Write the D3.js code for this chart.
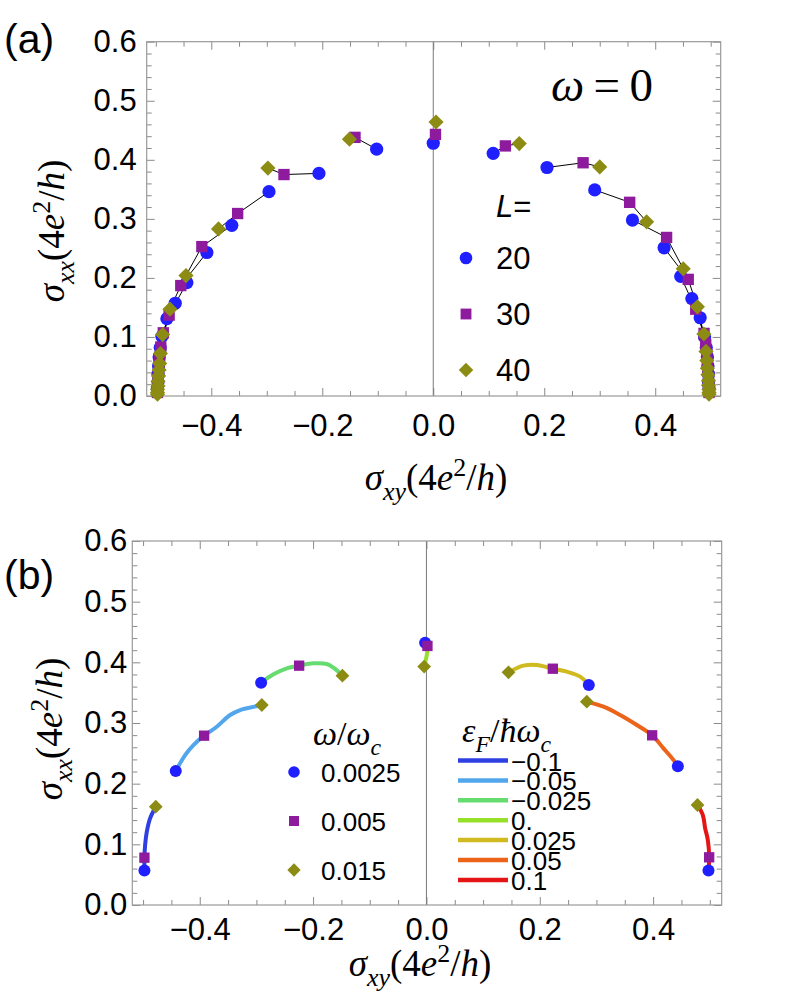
<!DOCTYPE html>
<html>
<head>
<meta charset="utf-8">
<script src="https://cdn.jsdelivr.net/npm/d3@7"></script>
<style>
  body { margin: 0; background: #fff; }
  svg { display: block; }
  .tick text { font-family: "Liberation Sans", Arial, sans-serif; fill: #000; }
</style>
</head>
<body>
<svg id="chart" width="790" height="992"></svg>
<script>
// ---------- data ----------
const xMajor = [-0.4, -0.2, 0, 0.2, 0.4];
const xMinor = [-0.5, -0.45, -0.35, -0.3, -0.25, -0.15, -0.1, -0.05, 0.05, 0.1, 0.15, 0.25, 0.3, 0.35, 0.45, 0.5];
const yMajor = [0, 0.1, 0.2, 0.3, 0.4, 0.5, 0.6];
const yMinor = d3.range(0, 61, 2).filter(v => v % 10 !== 0).map(v => v / 100);

// panel (a): [sigma_xy, sigma_xx] ordered from the centre outward
const sizes = [20, 30, 40];
const aCentre = [[0, 0.428], [0.004, 0.443], [0.005, 0.464]];
const a20Right = [[0.108, 0.411], [0.205, 0.387], [0.291, 0.349], [0.359, 0.298], [0.416, 0.251], [0.446, 0.2025], [0.466, 0.165], [0.481, 0.1325], [0.489, 0.100], [0.492, 0.082], [0.494, 0.066], [0.495, 0.051], [0.496, 0.037], [0.496, 0.024], [0.497, 0.013]];
const a30Right = [[0.130, 0.4235], [0.270, 0.395], [0.354, 0.328], [0.4205, 0.2685], [0.4595, 0.1975], [0.473, 0.147], [0.488, 0.106], [0.491, 0.087], [0.493, 0.070], [0.494, 0.056], [0.495, 0.043], [0.496, 0.031], [0.496, 0.021], [0.497, 0.012], [0.497, 0.006]];
const a40Right = [[0.155, 0.4275], [0.300, 0.388], [0.3845, 0.295], [0.4505, 0.2155], [0.476, 0.151], [0.4877, 0.105], [0.4915, 0.0755], [0.493, 0.060], [0.494, 0.047], [0.495, 0.036], [0.496, 0.026], [0.496, 0.018], [0.497, 0.011], [0.497, 0.006], [0.497, 0.003]];
const a20Left = [[-0.102, 0.418], [-0.206, 0.377], [-0.296, 0.346], [-0.363, 0.289], [-0.408, 0.243], [-0.444, 0.192], [-0.465, 0.157], [-0.480, 0.131], [-0.489, 0.101], [-0.492, 0.082], [-0.494, 0.066], [-0.495, 0.051], [-0.496, 0.037], [-0.496, 0.024], [-0.497, 0.013]];
const a30Left = [[-0.141, 0.438], [-0.269, 0.375], [-0.3525, 0.309], [-0.417, 0.253], [-0.455, 0.187], [-0.476, 0.137], [-0.4865, 0.107], [-0.491, 0.083], [-0.493, 0.066], [-0.494, 0.053], [-0.495, 0.041], [-0.496, 0.030], [-0.496, 0.020], [-0.497, 0.012], [-0.497, 0.006]];
const a40Left = [[-0.151, 0.435], [-0.298, 0.386], [-0.387, 0.283], [-0.4456, 0.204], [-0.4744, 0.147], [-0.4876, 0.104], [-0.4917, 0.072], [-0.493, 0.055], [-0.494, 0.044], [-0.495, 0.034], [-0.496, 0.025], [-0.496, 0.017], [-0.497, 0.011], [-0.497, 0.006], [-0.497, 0.003]];

// panel (b): markers per omega/omega_c, curves per eps_F/hbar omega_c
const omegas = ['0.0025', '0.005', '0.015'];
const bOmega1 = [[-0.4976, 0.057], [-0.4423, 0.2209], [-0.2917, 0.3665], [-0.0023, 0.4324], [0.2865, 0.3626], [0.4436, 0.2286], [0.4977, 0.057]];
const bOmega2 = [[-0.4976, 0.078], [-0.3923, 0.2791], [-0.2246, 0.3945], [0.0018, 0.427], [0.223, 0.3895], [0.3983, 0.2797], [0.4989, 0.0786]];
const bOmega3 = [[-0.4776, 0.1621], [-0.2905, 0.3297], [-0.1482, 0.378], [-0.004, 0.393], [0.1448, 0.3835], [0.283, 0.3351], [0.4783, 0.1648]];

const fermiLabels = ['\u22120.1', '\u22120.05', '\u22120.025', '0.', '0.025', '0.05', '0.1'];
const fermiColors = ['#2f40e2', '#52a6ec', '#66dc70', '#97e02a', '#cfba1f', '#ec6419', '#e61515'];
const bCurveM010 = [[-0.4976, 0.0571], [-0.4976, 0.078], [-0.4964, 0.0989], [-0.4934, 0.1209], [-0.4876, 0.1429], [-0.4776, 0.1621]];
const bCurveM005 = [[-0.4423, 0.2209], [-0.4258, 0.2472], [-0.4111, 0.2637], [-0.3923, 0.2791], [-0.3699, 0.2939], [-0.3464, 0.3132], [-0.3287, 0.3214], [-0.317, 0.3242], [-0.2905, 0.3297]];
const bCurveM0025 = [[-0.2917, 0.3665], [-0.2699, 0.3802], [-0.2464, 0.3901], [-0.2246, 0.3945], [-0.1993, 0.3983], [-0.1758, 0.3972], [-0.1641, 0.3912], [-0.1482, 0.378]];
const bCurve0 = [[-0.0023, 0.4324], [0.0018, 0.427], [0.0006, 0.412], [-0.004, 0.393]];
const bCurveP0025 = [[0.1448, 0.3835], [0.1712, 0.3945], [0.1948, 0.3956], [0.223, 0.3895], [0.2477, 0.3846], [0.2712, 0.3764], [0.2865, 0.3626]];
const bCurveP005 = [[0.283, 0.3351], [0.3124, 0.3269], [0.3418, 0.3132], [0.3712, 0.2967], [0.3983, 0.2797], [0.4183, 0.2582], [0.4359, 0.239], [0.4436, 0.2286]];
const bCurveP010 = [[0.4783, 0.1648], [0.4877, 0.1483], [0.4918, 0.1264], [0.4965, 0.1071], [0.4989, 0.0786], [0.4977, 0.0571]];

const seriesColors = ['#1f1fff', '#8e1a9e', '#8c8c14'];

// ---------- helpers ----------
const svg = d3.select('#chart');
const SANS = '"Liberation Sans", Arial, sans-serif';
const SERIF = '"Liberation Serif", "Times New Roman", serif';

// parts: [text, kind]  kind: i = italic, r = roman, is = italic subscript, rp = roman superscript
function mathText(sel, parts, size) {
  let shift = 0;
  for (const [str, kind] of parts) {
    let target = 0, fs = size;
    if (kind.endsWith('s')) { target = size * 0.28; fs = size * 0.7; }
    if (kind.endsWith('p')) { target = -size * 0.38; fs = size * 0.7; }
    sel.append('tspan')
      .attr('dy', target - shift)
      .attr('font-size', fs)
      .attr('font-style', kind.startsWith('i') ? 'italic' : 'normal')
      .text(str);
    shift = target;
  }
  return sel;
}

// 0 circle, 1 square, 2 diamond (a square turned 45 degrees); r ~ half width
function marker(kind, r) {
  if (kind === 0) return d3.symbol(d3.symbolCircle, Math.PI * r * r)();
  if (kind === 1) return d3.symbol(d3.symbolSquare, (r * 1.72) ** 2)();
  const h = r * 1.15;
  return d3.symbol(d3.symbolSquare, 2 * h * h)();
}
function place(kind, px, py) {
  return `translate(${px},${py})` + (kind === 2 ? ' rotate(45)' : '');
}

function drawFrame(x, y, opt) {
  const g = svg.append('g');
  const [x0, x1] = x.range();
  const [y0, y1] = y.range();
  const tickCol = '#8a8a8a';

  const axes = [
    [d3.axisBottom(x), y0, 'x', true],
    [d3.axisTop(x), y1, 'x', false],
    [d3.axisLeft(y), x0, 'y', true],
    [d3.axisRight(y), x1, 'y', false]
  ];
  for (const [axis, pos, dir, labels] of axes) {
    const isX = dir === 'x';
    const tr = isX ? `translate(0,${pos})` : `translate(${pos},0)`;
    g.append('g').attr('transform', tr)
      .call(axis.tickValues(isX ? xMinor : yMinor).tickSize(-5).tickSizeOuter(0).tickFormat(''))
      .call(s => s.select('.domain').remove())
      .call(s => s.selectAll('line').attr('stroke', tickCol));
    g.append('g').attr('transform', tr)
      .call(axis.tickValues(isX ? xMajor : yMajor).tickSize(-8).tickSizeOuter(0)
        .tickPadding(isX ? opt.xPad : opt.yPad)
        .tickFormat(labels ? d3.format('.1f') : ''))
      .call(s => s.select('.domain').remove())
      .call(s => s.selectAll('line').attr('stroke', tickCol))
      .call(s => s.selectAll('text').attr('font-size', 31).attr('font-family', SANS));
  }

  // zero line
  g.append('line')
    .attr('x1', x(0)).attr('x2', x(0)).attr('y1', y0).attr('y2', y1)
    .attr('stroke', '#7a7a7a').attr('stroke-width', 1);

  g.append('rect')
    .attr('x', x0).attr('y', y1).attr('width', x1 - x0).attr('height', y0 - y1)
    .attr('fill', 'none').attr('stroke', '#999').attr('stroke-width', 1.2);

  // axis titles
  mathText(g.append('text')
    .attr('x', opt.xLabelMid).attr('y', opt.xLabelY)
    .attr('text-anchor', 'middle').attr('font-family', SERIF),
    [['σ', 'i'], ['xy', 'is'], ['(4', 'r'], ['e', 'i'], ['2', 'rp'], ['/', 'r'], ['h', 'i'], [')', 'r']], 37);

  mathText(g.append('text')
    .attr('transform', `translate(${opt.yLabelX},${opt.yLabelMid}) rotate(-90)`)
    .attr('text-anchor', 'middle').attr('font-family', SERIF),
    [['σ', 'i'], ['xx', 'is'], ['(4', 'r'], ['e', 'i'], ['2', 'rp'], ['/', 'r'], ['h', 'i'], [')', 'r']], 37);

  g.append('text')
    .attr('x', 4).attr('y', opt.tagY)
    .attr('font-family', SANS).attr('font-size', 41)
    .text(opt.tag);
  return g;
}

// ---------- panel (a) ----------
const xa = d3.scaleLinear().domain([-0.5164, 0.518]).range([146.7, 720.7]);
const ya = d3.scaleLinear().domain([0, 0.6]).range([396, 41.7]);
drawFrame(xa, ya, { xPad: 18, yPad: 10, xLabelMid: 436, xLabelY: 490, yLabelX: 64, yLabelMid: 231, tag: '(a)', tagY: 53 });

const aRight = [a20Right, a30Right, a40Right];
const aLeft = [a20Left, a30Left, a40Left];
const lineA = d3.line().x(d => xa(d[0])).y(d => ya(d[1]));
const links = [aCentre];
for (const side of [aRight, aLeft]) {
  const n = d3.min(side, s => s.length);
  for (let k = 0; k < n; k++) links.push(side.map(s => s[k]));
}
svg.append('g').selectAll('path').data(links).join('path')
  .attr('d', lineA).attr('fill', 'none').attr('stroke', '#000').attr('stroke-width', 1);

sizes.forEach((L, i) => {
  const pts = [aCentre[i], ...aRight[i], ...aLeft[i]];
  svg.append('g').selectAll('path').data(pts).join('path')
    .attr('transform', d => place(i, xa(d[0]), ya(d[1])))
    .attr('d', marker(i, 6.6))
    .attr('fill', seriesColors[i]);
});

// legend (a)
const legA = svg.append('g').attr('font-family', SANS);
legA.append('text').attr('x', 496).attr('y', 217).attr('font-size', 31)
  .call(t => { t.append('tspan').attr('font-style', 'italic').text('L'); t.append('tspan').text('='); });
sizes.forEach((L, i) => {
  const cy = 258 + i * 56;
  legA.append('path').attr('transform', place(i, 466, cy)).attr('d', marker(i, 6.3)).attr('fill', seriesColors[i]);
  legA.append('text').attr('x', 496).attr('y', cy + 11).attr('font-size', 31).text(L);
});
mathText(svg.append('text').attr('x', 551).attr('y', 101).attr('font-family', SERIF),
  [['ω', 'i'], ['\u2009=\u20090', 'r']], 47);

// ---------- panel (b) ----------
const xb = d3.scaleLinear().domain([-0.519, 0.521]).range([132.3, 721.7]);
const yb = d3.scaleLinear().domain([0, 0.6]).range([905, 541]);
drawFrame(xb, yb, { xPad: 13, yPad: 5, xLabelMid: 420, xLabelY: 976, yLabelX: 62, yLabelMid: 729, tag: '(b)', tagY: 589 });

const curves = [bCurveM010, bCurveM005, bCurveM0025, bCurve0, bCurveP0025, bCurveP005, bCurveP010];
const lineB = d3.line().x(d => xb(d[0])).y(d => yb(d[1])).curve(d3.curveCatmullRom);
svg.append('g').selectAll('path').data(curves).join('path')
  .attr('d', lineB).attr('fill', 'none')
  .attr('stroke', (d, i) => fermiColors[i]).attr('stroke-width', 4).attr('stroke-linecap', 'round');

[bOmega1, bOmega2, bOmega3].forEach((pts, i) => {
  svg.append('g').selectAll('path').data(pts).join('path')
    .attr('transform', d => place(i, xb(d[0]), yb(d[1])))
    .attr('d', marker(i, 6))
    .attr('fill', seriesColors[i]);
});

// legend (b): omega
const legB1 = svg.append('g').attr('font-family', SANS);
mathText(legB1.append('text').attr('x', 313).attr('y', 745).attr('font-family', SERIF),
  [['ω', 'i'], ['/', 'r'], ['ω', 'i'], ['c', 'is']], 34);
omegas.forEach((w, i) => {
  const cy = 772 + i * 49;
  legB1.append('path').attr('transform', place(i, 294, cy)).attr('d', marker(i, 5.8)).attr('fill', seriesColors[i]);
  legB1.append('text').attr('x', 321).attr('y', cy + 10).attr('font-size', 26).text(w);
});

// legend (b): Fermi energy
const legB2 = svg.append('g').attr('font-family', SANS);
mathText(legB2.append('text').attr('x', 462).attr('y', 742).attr('font-family', SERIF),
  [['ε', 'i'], ['F', 'is'], ['/', 'r'], ['ħω', 'i'], ['c', 'is']], 34);
fermiLabels.forEach((lab, i) => {
  const cy = 760.5 + i * 19.9;
  legB2.append('line').attr('x1', 458).attr('x2', 508).attr('y1', cy).attr('y2', cy)
    .attr('stroke', fermiColors[i]).attr('stroke-width', 4.5);
  legB2.append('text').attr('x', 511).attr('y', cy + 10).attr('font-size', 26).text(lab);
});
</script>
</body>
</html>
